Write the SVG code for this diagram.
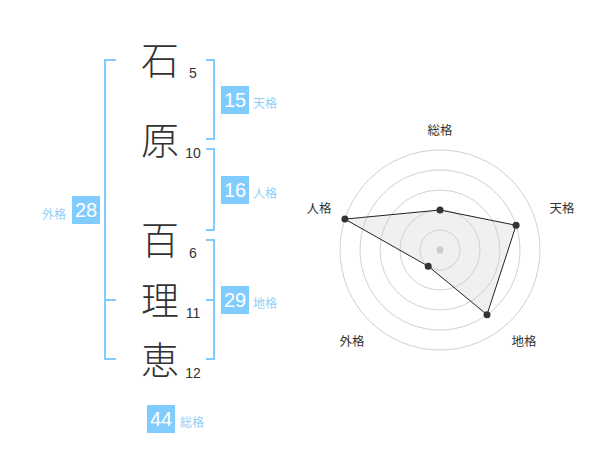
<svg xmlns="http://www.w3.org/2000/svg" width="600" height="470" viewBox="0 0 600 470">
<style>
.ch{font-family:"Noto Sans CJK JP","Noto Sans CJK SC",sans-serif;font-size:38px;font-weight:300;fill:#333;text-anchor:middle}
.num{font-family:"Liberation Sans",Arial,sans-serif;font-size:14px;fill:#333;text-anchor:middle}
.box{fill:#80ccff}
.bn{font-family:"Liberation Sans",Arial,sans-serif;font-size:20px;fill:#fff;text-anchor:middle}
.lb{font-family:"Noto Sans CJK JP","Noto Sans CJK SC",sans-serif;font-size:12px;fill:#8fd0f8}
.br{fill:none;stroke:#80ccff;stroke-width:2}
.ring{fill:none;stroke:#d0d0d0;stroke-width:1}
.rl{font-family:"Noto Sans CJK JP","Noto Sans CJK SC",sans-serif;font-size:12.5px;fill:#333;text-anchor:middle}
.pt{fill:#333}
</style>
<rect width="600" height="470" fill="#fff"/>
<g id="chars">
<g id="c1"><text class="ch" x="160" y="74">石</text><text class="num" x="193" y="78">5</text></g>
<g id="c2"><text class="ch" x="160" y="154">原</text><text class="num" x="193" y="158">10</text></g>
<g id="c3"><text class="ch" x="160" y="254">百</text><text class="num" x="193" y="258">6</text></g>
<g id="c4"><text class="ch" x="160" y="314">理</text><text class="num" x="193" y="318">11</text></g>
<g id="c5"><text class="ch" x="160" y="374">恵</text><text class="num" x="193" y="378">12</text></g>
</g>
<g id="connectors">
<path class="br" d="M206,60 H214 V139 H206"/>
<path class="br" d="M206,149 H214 V230 H206"/>
<path class="br" d="M206,240 H214 V359 H206 M206,300 H214"/>
<path class="br" d="M116,60 H105 V359 H116 M105,300 H116"/>
</g>
<g id="tenkaku"><rect class="box" x="221" y="86" width="28" height="28"/><text class="bn" x="235" y="107">15</text><text class="lb" x="253" y="108">天格</text></g>
<g id="jinkaku"><rect class="box" x="221" y="176" width="28" height="28"/><text class="bn" x="235" y="197">16</text><text class="lb" x="253" y="198">人格</text></g>
<g id="chikaku"><rect class="box" x="221" y="286" width="28" height="28"/><text class="bn" x="235" y="307">29</text><text class="lb" x="253" y="308">地格</text></g>
<g id="gaikaku"><rect class="box" x="72" y="196" width="28" height="28"/><text class="bn" x="86" y="217">28</text><text class="lb" x="66" y="219" text-anchor="end">外格</text></g>
<g id="soukaku"><rect class="box" x="147" y="405" width="28" height="28"/><text class="bn" x="161" y="426">44</text><text class="lb" x="180" y="427">総格</text></g>
<g id="radar">
<polygon points="440,210 516.1,225.3 487,314.7 428.2,266.2 344.9,219.1" fill="#e6e6e6" fill-opacity="0.6"/>
<circle class="ring" cx="440" cy="250" r="20"/>
<circle class="ring" cx="440" cy="250" r="40"/>
<circle class="ring" cx="440" cy="250" r="60"/>
<circle class="ring" cx="440" cy="250" r="80"/>
<circle class="ring" cx="440" cy="250" r="100"/>
<circle cx="440" cy="250" r="3.5" fill="#ccc"/>
<polygon points="440,210 516.1,225.3 487,314.7 428.2,266.2 344.9,219.1" fill="none" stroke="#222" stroke-width="1"/>
<circle class="pt" cx="440" cy="210" r="3.5"/>
<circle class="pt" cx="516.1" cy="225.3" r="3.5"/>
<circle class="pt" cx="487" cy="314.7" r="3.5"/>
<circle class="pt" cx="428.2" cy="266.2" r="3.5"/>
<circle class="pt" cx="344.9" cy="219.1" r="3.5"/>
<text class="rl" x="440" y="135">総格</text>
<text class="rl" x="562" y="213">天格</text>
<text class="rl" x="524" y="346">地格</text>
<text class="rl" x="352" y="346">外格</text>
<text class="rl" x="319" y="213">人格</text>
</g>
</svg>
